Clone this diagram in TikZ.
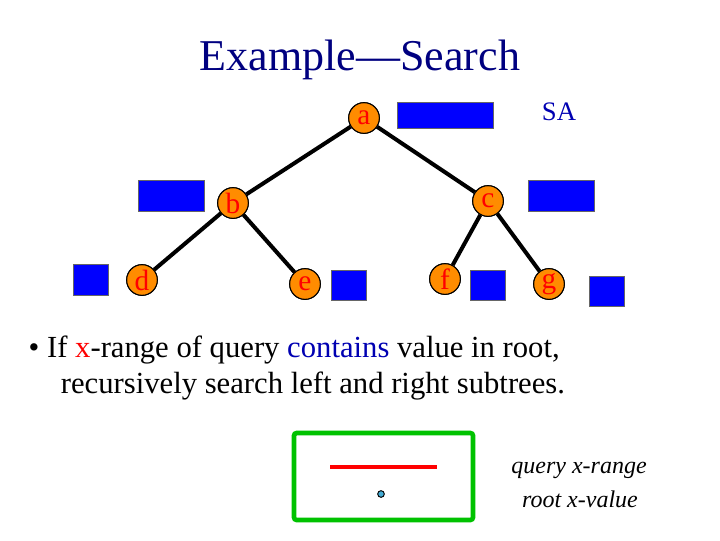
\documentclass[tikz,border=0pt]{standalone}
\usepackage{fontspec}
\setmainfont{Liberation Serif}
\begin{document}
\begin{tikzpicture}[x=0.75pt,y=-0.75pt,
  tn/.style={circle,draw=black,line width=0.8pt,fill=orange!90!yellow,minimum size=23pt,inner sep=0pt,text=red,font=\fontsize{22}{22}\selectfont},
  bx/.style={fill=blue,draw=black!60,line width=0.3pt},
  ed/.style={line width=3pt,black}]
\useasboundingbox (0,0) rectangle (720,540);
\node[text=blue!50!black,font=\fontsize{33}{36}\selectfont] (title) at (360,60) {Example—Search};
\node[tn] (a) at (364,118) {a};
\node[tn] (b) at (233,203) {b};
\node[tn] (c) at (488,201) {c};
\node[tn] (d) at (142,280) {d};
\node[tn] (e) at (305,284) {e};
\node[tn] (f) at (445,279) {f};
\node[tn] (g) at (549,284) {g};
\draw[ed] (a) -- (b); \draw[ed] (a) -- (c);
\draw[ed] (b) -- (d); \draw[ed] (b) -- (e);
\draw[ed] (c) -- (f); \draw[ed] (c) -- (g);
\node[tn] at (a) {a}; \node[tn] at (b) {b}; \node[tn] at (c) {c};
\node[tn] at (d) {d}; \node[tn] at (e) {e}; \node[tn] at (f) {f}; \node[tn] at (g) {g};
\draw[bx] (397,102) rectangle (493,128);
\draw[bx] (138,180) rectangle (204,211);
\draw[bx] (528,180) rectangle (594,211);
\draw[bx] (73,264) rectangle (108,295);
\draw[bx] (331,270) rectangle (366,300);
\draw[bx] (470,270) rectangle (505,300);
\draw[bx] (589,276) rectangle (624,306);
\node[text=blue!70!black,font=\fontsize{20}{20}\selectfont] (sa) at (559,112) {SA};
\node[anchor=west,font=\fontsize{23}{27}\selectfont,align=left] (txt) at (24,368)
 {• If \textcolor{red}{x}-range of query \textcolor{blue!70!black}{contains} value in root,\\
 \hspace*{1.05em}recursively search left and right subtrees.};
\draw[green!70!black!80!green,line width=3.5pt,rounded corners=2pt] (294,433) rectangle (473,520);
\coordinate (r1) at (330,467); \coordinate (r2) at (437,467);
\draw[red,line width=3.5pt] (r1) -- (r2);
\node[circle,draw=black,fill=cyan!70!gray,inner sep=0pt,minimum size=5pt,line width=0.7pt] (pt) at (381,494) {};
\node[font=\itshape\fontsize{18}{19}\selectfont] (l1) at (579,470) {query x-range};
\node[font=\itshape\fontsize{18}{19}\selectfont] (l2) at (580,499) {root x-value};
\end{tikzpicture}
\end{document}
